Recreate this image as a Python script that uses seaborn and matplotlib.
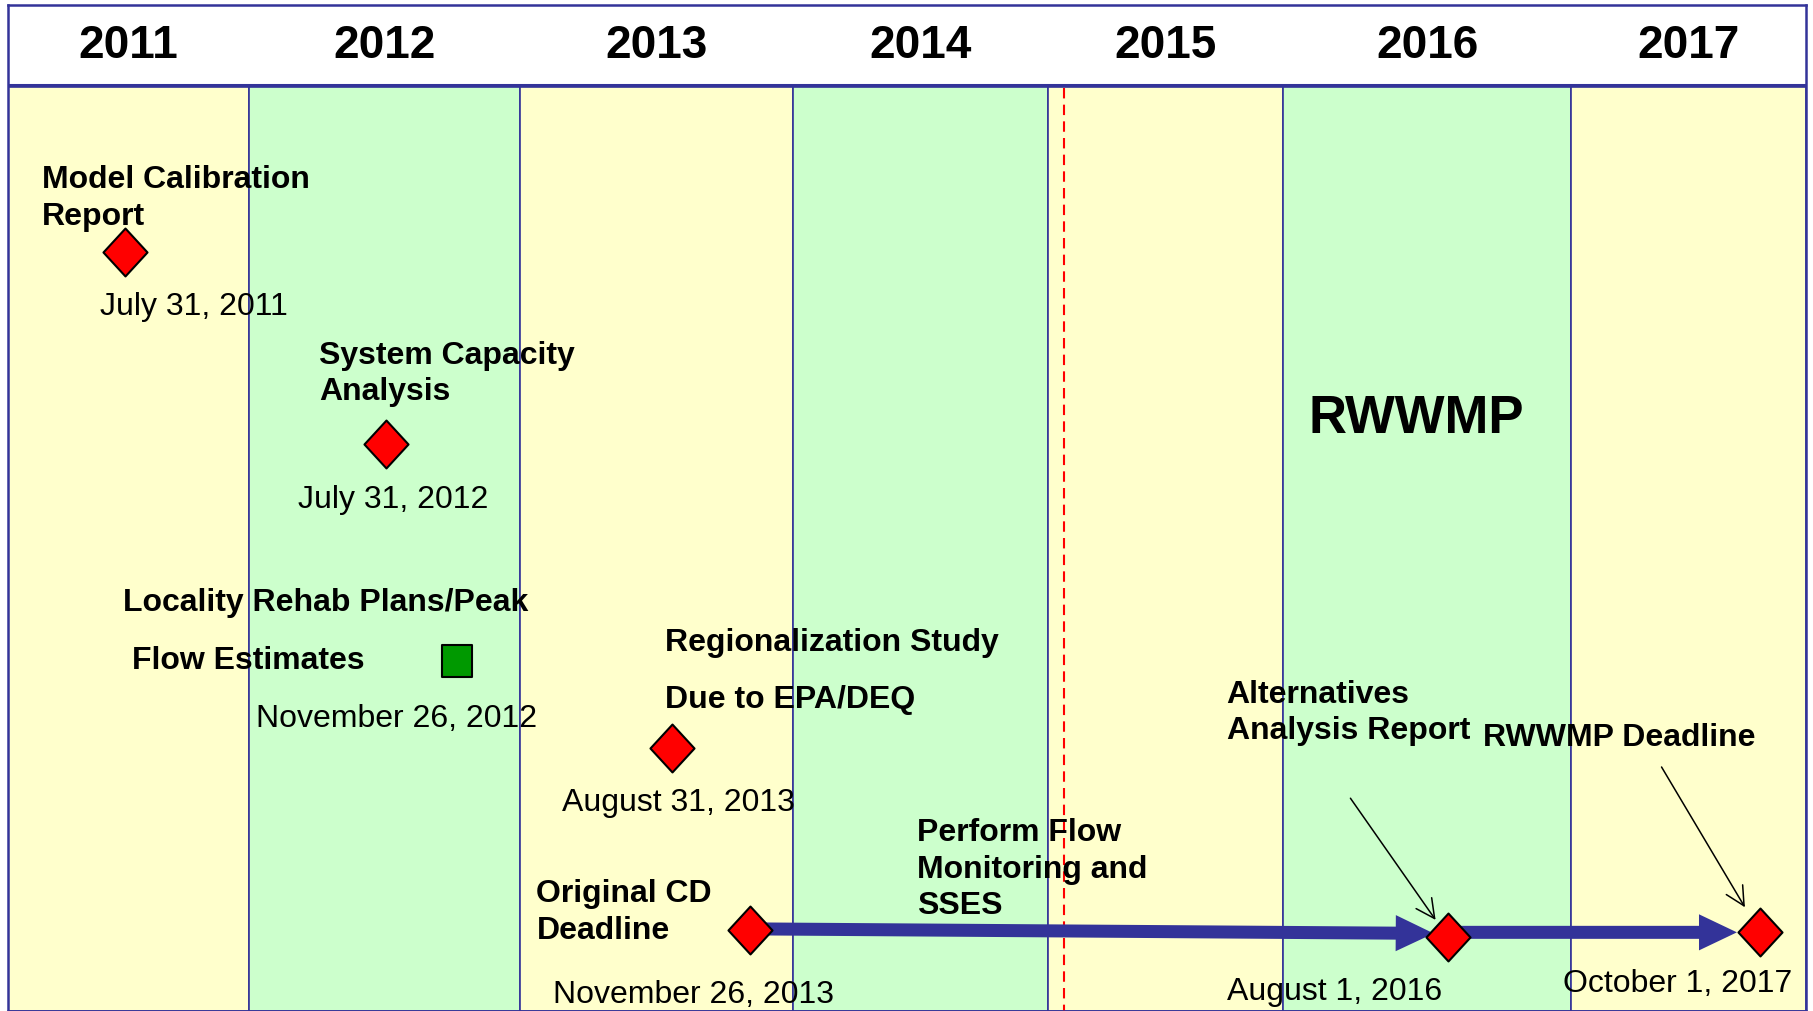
import numpy as np
import pandas as pd
import matplotlib
matplotlib.use("Agg")
import matplotlib.pyplot as plt
from matplotlib.path import Path
import seaborn as sns

# ---------------- data ----------------
years = [2011, 2012, 2013, 2014, 2015, 2016, 2017]
year_fill = ["#FFFFCC", "#CCFFCC", "#FFFFCC", "#CCFFCC", "#FFFFCC", "#CCFFCC", "#FFFFCC"]

milestone_labels = [
    "Model Calibration\nReport",
    "System Capacity\nAnalysis",
    "Locality Rehab Plans/Peak",
    "Regionalization Study",
    "Original CD\nDeadline",
    "Alternatives\nAnalysis Report",
    "RWWMP Deadline",
]
milestone_dates = [
    "July 31, 2011",
    "July 31, 2012",
    "November 26, 2012",
    "August 31, 2013",
    "November 26, 2013",
    "August 1, 2016",
    "October 1, 2017",
]
# position on the (stylised) timeline, in decimal years as drawn
milestone_pos = [2011.486, 2012.506, 2012.766, 2013.555, 2013.843, 2016.570, 2017.803]
milestone_kind = ["deadline", "deadline", "submittal", "deadline", "deadline", "deadline", "deadline"]
status_date = 2015.07
program_label = "RWWMP"
program_pos = 2016.46
activity_label = "Perform Flow\nMonitoring and\nSSES"

# ---------------- layout ----------------
S = 1813 / 1568          # reference-preview px -> output px
px_edges = [7, 215, 450, 686, 906, 1110, 1359, 1562]   # drawn column edges
yr_edges = years + [2018]
row_y = [218, 384, 571, 647, 804, 810, 806]           # vertical rows of milestones
label_off = [(-72, -46.5), (-58, -60.5), (-289, -50), (-6, -91), (-185, -15), (-191, -193.5), (-239, -168)]
date_off = [(-22, 47), (-76, 48), (-174, 51), (-95, 47), (-171, 56), (-191, 48), (-170, 45)]

NAVY = "#333399"
FONT = ["Liberation Sans", "DejaVu Sans"]
LS = 1.28

sns.set_theme(style="white")
plt.rcParams["font.family"] = FONT

fig = plt.figure(figsize=(18.13, 10.11), dpi=100)
ax = fig.add_axes([7 / 1568, 0, 1555 / 1568, 870 / 874])

# year columns
ax.bar(years, height=874 - 75, bottom=75, width=1, align="edge",
       color=year_fill, edgecolor=NAVY, linewidth=1.2, zorder=1)
# header
ax.bar([2011], height=73 - 4, bottom=4, width=7, align="edge",
       color="white", edgecolor="none", zorder=1)
ax.axhline(73.5, color=NAVY, lw=2.2, zorder=3)
for y in years:
    ax.text(y + 0.5, 40, str(y), ha="center", va="center", fontsize=33,
            fontweight="bold", color="black", zorder=4)

# status date line
ax.vlines(status_date, 76, 874, colors="red", linestyles=(0, (5, 3)), lw=1.5, zorder=2)

# program label
ax.text(program_pos, 362, program_label, ha="center", va="center", fontsize=38,
        fontweight="bold", color="black", zorder=4)

df = pd.DataFrame({"pos": milestone_pos, "row": row_y, "kind": milestone_kind})

# thick progress arrows between the final milestones
def big_arrow(i, j, dy_start, dy_end, shrinkB):
    ax.annotate("", xy=(milestone_pos[j], row_y[j] + dy_end),
                xytext=(milestone_pos[i], row_y[i] + dy_start),
                xycoords="data",
                arrowprops=dict(arrowstyle="simple,head_length=1.05,head_width=1.0,tail_width=0.36",
                                mutation_scale=26, color=NAVY, shrinkA=0, shrinkB=shrinkB,
                                lw=0),
                zorder=4)

big_arrow(4, 5, -1, -3, 10)
big_arrow(5, 6, -4, 0, 16.5)

# markers
diamond = Path([(-0.46, 0), (0, 0.5), (0.46, 0), (0, -0.5), (-0.46, 0)], closed=True)
rect = Path([(-0.45, -0.5), (0.45, -0.5), (0.45, 0.5), (-0.45, 0.5), (-0.45, -0.5)], closed=True)
d = df[df.kind == "deadline"]
s = df[df.kind == "submittal"]
sns.scatterplot(data=d, x="pos", y="row", marker=diamond, s=1190, color="#FF0000",
                edgecolor="black", linewidth=1.5, ax=ax, zorder=6, legend=False)
sns.scatterplot(data=s, x="pos", y="row", marker=rect, s=560, color="#009900",
                edgecolor="black", linewidth=1.5, ax=ax, zorder=6, legend=False)

# labels
for i, lab in enumerate(milestone_labels):
    dx, dy = label_off[i]
    ax.annotate(lab, xy=(milestone_pos[i], row_y[i]), xytext=(dx * S, -dy * S),
                textcoords="offset pixels", ha="left", va="center", fontsize=23,
                fontweight="bold", color="black", linespacing=LS, zorder=7)
    ddx, ddy = date_off[i]
    ax.annotate(milestone_dates[i], xy=(milestone_pos[i], row_y[i]), xytext=(ddx * S, -ddy * S),
                textcoords="offset pixels", ha="left", va="center", fontsize=23,
                color="black", zorder=7)

# second lines of the widely spaced labels
ax.annotate("Flow Estimates", xy=(milestone_pos[2], row_y[2]), xytext=(-281 * S, 0),
            textcoords="offset pixels", ha="left", va="center", fontsize=23,
            fontweight="bold", color="black", zorder=7)
ax.annotate("Due to EPA/DEQ", xy=(milestone_pos[3], row_y[3]), xytext=(-6 * S, 42 * S),
            textcoords="offset pixels", ha="left", va="center", fontsize=23,
            fontweight="bold", color="black", zorder=7)

# activity label on the progress arrow
ax.annotate(activity_label, xy=(milestone_pos[4], row_y[4]), xytext=(144 * S, 52 * S),
            textcoords="offset pixels", ha="left", va="center", fontsize=23,
            fontweight="bold", color="black", linespacing=LS, zorder=7)

# thin pointer arrows
ax.annotate("", xy=(milestone_pos[5], row_y[5]), xycoords="data",
            xytext=(-84 * S, 120 * S), textcoords="offset pixels",
            arrowprops=dict(arrowstyle="->,head_length=0.75,head_width=0.38",
                            mutation_scale=18, color="black", lw=1.1,
                            shrinkA=0, shrinkB=15), zorder=7)
ax.annotate("", xy=(milestone_pos[6], row_y[6]), xycoords="data",
            xytext=(-85 * S, 143 * S), textcoords="offset pixels",
            arrowprops=dict(arrowstyle="->,head_length=0.75,head_width=0.38",
                            mutation_scale=18, color="black", lw=1.1,
                            shrinkA=0, shrinkB=21), zorder=7)

# nonuniform column widths as drawn
fwd = lambda x: np.interp(x, yr_edges, px_edges)
inv = lambda p: np.interp(p, px_edges, yr_edges)
ax.set_xscale("function", functions=(fwd, inv))
ax.set_xlim(2011, 2018)
ax.set_ylim(874, 4)
ax.set_xticks([])
ax.set_yticks([])
ax.set_xlabel("")
ax.set_ylabel("")
for sp in ax.spines.values():
    sp.set_visible(True)
    sp.set_color(NAVY)
    sp.set_linewidth(1.8)
    sp.set_zorder(8)

fig.patch.set_facecolor("white")
fig.savefig("out.png", dpi=100)
